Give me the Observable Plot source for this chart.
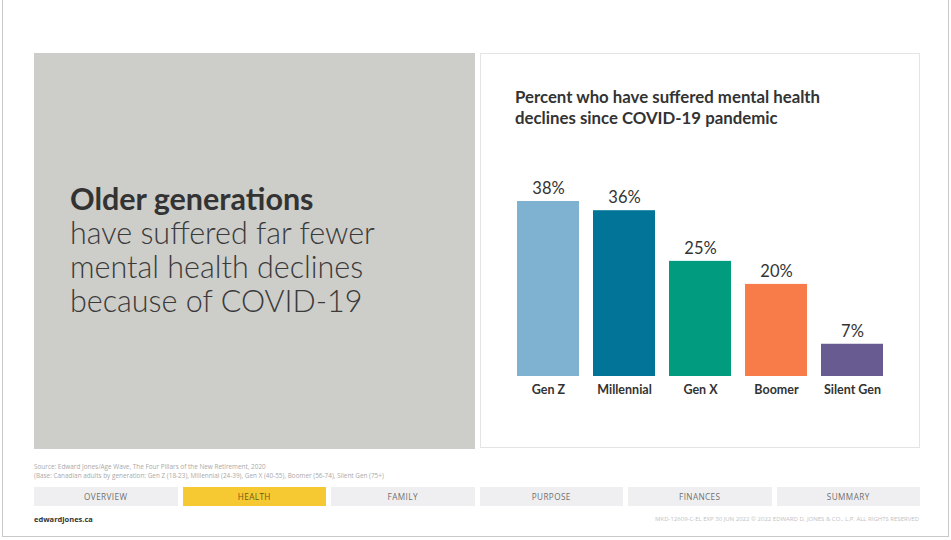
<!DOCTYPE html>
<html>
<head>
<meta charset="utf-8">
<script src="https://cdn.jsdelivr.net/npm/d3@7"></script>
<script src="https://cdn.jsdelivr.net/npm/@observablehq/plot@0.6"></script>
<style>
  html, body { margin: 0; padding: 0; background: #fff; }
  #page { position: relative; width: 951px; height: 540px; overflow: hidden; font-family: Lato, "Open Sans", sans-serif; }
  #frame { position: absolute; left: 2px; top: -2px; width: 947px; height: 539px; border: 1px solid #c9c9c9; box-sizing: border-box; }
  #left { position: absolute; left: 34px; top: 53px; width: 441px; height: 396px; background: #cdcdc9; }
  #headline { position: absolute; left: 70px; top: 181px; font-size: 30.5px; line-height: 34px; color: #3a3a3a; font-weight: 300; }
  #headline b { font-weight: 700; color: #333; }
  #right { position: absolute; left: 480px; top: 53px; width: 440px; height: 395px; background: #fff; border: 1px solid #e4e4e4; box-sizing: border-box; }
  #ctitle { position: absolute; left: 515px; top: 86px; font-size: 16.8px; line-height: 21px; font-weight: 700; color: #333; }
  #chart { position: absolute; left: 480px; top: 150px; }
  #src { position: absolute; left: 34px; top: 462px; font-size: 6.4px; line-height: 9px; color: #a9a9a9; font-family: "Open Sans", sans-serif; }
  .tab { position: absolute; top: 487px; height: 19px; background: #efeff1; font-size: 8.2px; line-height: 19px; text-align: center; color: #707070; letter-spacing: 0.4px; font-family: "Open Sans", sans-serif; }
  .tab.on { background: #f6c932; color: #6b5a1a; }
  #site { position: absolute; left: 34px; top: 514px; font-size: 7.5px; font-weight: 700; color: #333; font-family: "Open Sans", sans-serif; }
  #legal { position: absolute; right: 32px; top: 515px; font-size: 6px; color: #c2c2c2; font-family: "Open Sans", sans-serif; }
</style>
</head>
<body>
<div id="page">
  <div id="frame"></div>
  <div id="left"></div>
  <div id="headline"><b>Older generations</b><br>have suffered far fewer<br>mental health declines<br>because of COVID-19</div>
  <div id="right"></div>
  <div id="ctitle">Percent who have suffered mental health<br>declines since COVID-19 pandemic</div>
  <div id="chart"></div>
  <div id="src">Source: Edward Jones/Age Wave, The Four Pillars of the New Retirement, 2020<br>(Base: Canadian adults by generation: Gen Z (18-23), Millennial (24-39), Gen X (40-55), Boomer (56-74), Silent Gen (75+)</div>
  <div id="tabs"></div>
  <div id="site">edwardjones.ca</div>
  <div id="legal">MKD-12609-C-EL EXP 30 JUN 2022 © 2022 EDWARD D. JONES &amp; CO., L.P. ALL RIGHTS RESERVED</div>
</div>
<script>
const categories = ["Gen Z", "Millennial", "Gen X", "Boomer", "Silent Gen"];
const values = [38, 36, 25, 20, 7];
const colors = ["#7fb1d1", "#017497", "#019b80", "#f77c4a", "#685b92"];
const tabs = ["OVERVIEW", "HEALTH", "FAMILY", "PURPOSE", "FINANCES", "SUMMARY"];
const activeTab = "HEALTH";

const data = categories.map((c, i) => ({category: c, value: values[i]}));

const chart = Plot.plot({
  width: 440,
  height: 260,
  marginLeft: 35,
  marginRight: 35,
  marginTop: 51,
  marginBottom: 34,
  style: {background: "transparent", fontFamily: "Lato, 'Open Sans', sans-serif", overflow: "visible"},
  x: {domain: categories, paddingInner: 0.19, paddingOuter: 0, label: null},
  y: {domain: [0, 38], axis: null},
  color: {domain: categories, range: colors},
  marks: [
    Plot.barY(data, {x: "category", y: "value", fill: "category"}),
    Plot.text(data, {x: "category", y: "value", text: d => d.value + "%", dy: -13, fontSize: 16.5, fill: "#333"}),
    Plot.axisX({tickSize: 0, tickPadding: 9, fontSize: 12.5, fontWeight: "bold", color: "#333", label: null})
  ]
});
document.getElementById("chart").appendChild(chart);

const tabLefts = [34, 182.5, 331, 479.5, 628, 776.5];
const tabWidth = 143.5;
const tabBox = document.getElementById("tabs");
tabs.forEach((t, i) => {
  const d = document.createElement("div");
  d.className = "tab" + (t === activeTab ? " on" : "");
  d.style.left = tabLefts[i] + "px";
  d.style.width = tabWidth + "px";
  d.textContent = t;
  tabBox.appendChild(d);
});
</script>
</body>
</html>
